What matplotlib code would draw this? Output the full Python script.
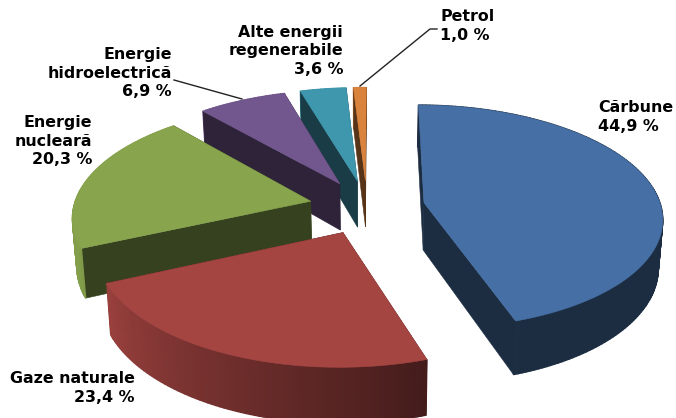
import numpy as np
import matplotlib
matplotlib.use("Agg")
import matplotlib.pyplot as plt
from matplotlib.patches import Polygon

# ---- data -------------------------------------------------------------
categories = ["Cărbune", "Gaze naturale", "Energie\nnucleară", "Energie\nhidroelectrică",
              "Alte energii\nregenerabile", "Petrol"]
values = [44.9, 23.4, 20.3, 6.9, 3.6, 1.0]
value_labels = ["44,9 %", "23,4 %", "20,3 %", "6,9 %", "3,6 %", "1,0 %"]
colors = ["#4670A5", "#A54542", "#88A44D", "#72578E", "#3F97AE", "#D9833D"]

# ---- 3-D pie projection parameters (pixels) -----------------------------
CX, CY = 367.0, 207.0
RADIUS = 237.0
EXPLODE = 58.0
TILT = 0.468
PERSP = 0.125
DEPTH = 47.5
BOTTOM_X = 0.985
START = 0.2

W, H = 676, 418
fig = plt.figure(figsize=(W / 100, H / 100), dpi=100)
ax = fig.add_axes([0, 0, 1, 1])
ax.set_xlim(0, W)
ax.set_ylim(H, 0)
ax.axis("off")


def project(theta, radius, mid, level):
    t, m = np.radians(theta), np.radians(mid)
    u = radius * np.sin(t) + EXPLODE * np.sin(m)
    v = radius * np.cos(t) + EXPLODE * np.cos(m)
    s = 1.0 / (1.0 + PERSP * v / RADIUS)
    x = u * s
    y = -v * TILT * s + DEPTH * s * level
    x = x * (1 + (BOTTOM_X - 1) * level)
    return np.column_stack([CX + x, CY + y])


def shade(color, f):
    rgb = np.array(matplotlib.colors.to_rgb(color))
    return tuple(rgb * f)


def wall_brightness(theta):
    return float(np.clip(0.40 + (theta - 160.0) * 0.0062, 0.40, 0.97))


def draw_wall(top_arc, bot_arc, thetas, col, mask):
    for i in range(len(thetas) - 1):
        tm = (thetas[i] + thetas[i + 1]) / 2
        if mask(tm):
            c = shade(col, wall_brightness(tm))
            ax.add_patch(Polygon([top_arc[i], top_arc[i + 1], bot_arc[i + 1], bot_arc[i]], closed=True,
                                 facecolor=c, edgecolor=c, lw=1.0, zorder=1))


total = sum(values)
fracs = [v / total * 360.0 for v in values]
starts = START + np.concatenate([[0], np.cumsum(fracs)[:-1]])
slices = [(s, s + f, c) for s, f, c in zip(starts, fracs, colors)]

# painter's order: back slices first
for idx in [5, 4, 3, 2, 0, 1]:
    a0, a1, col = slices[idx]
    mid = (a0 + a1) / 2
    thetas = np.linspace(a0, a1, max(int(a1 - a0), 6))
    top_arc = project(thetas, RADIUS, mid, 0)
    bot_arc = project(thetas, RADIUS, mid, 1)
    apex_top = project(np.array([mid]), 0.0, mid, 0)
    apex_bot = project(np.array([mid]), 0.0, mid, 1)
    dark = shade(col, 0.40)
    faces_back = lambda t: np.cos(np.radians(t)) > 0
    faces_front = lambda t: np.cos(np.radians(t)) <= 0
    draw_wall(top_arc, bot_arc, thetas, col, faces_back)
    for end_top, end_bot in [(top_arc[0], bot_arc[0]), (top_arc[-1], bot_arc[-1])]:
        ax.add_patch(Polygon([apex_top[0], end_top, end_bot, apex_bot[0]], closed=True,
                             facecolor=dark, edgecolor=dark, lw=0.4, zorder=1))
    draw_wall(top_arc, bot_arc, thetas, col, faces_front)
    ax.add_patch(Polygon(np.vstack([apex_top, top_arc]), closed=True,
                         facecolor=col, edgecolor=col, lw=0.4, zorder=1))

# ---- labels --------------------------------------------------------------
font = dict(fontsize=11.4, fontweight="bold", family="DejaVu Sans", color="black",
            linespacing=1.3, va="center", zorder=5)
ax.text(598, 117, f"{categories[0]}\n{value_labels[0]}", ha="left", **font)
ax.text(135, 388, f"{categories[1]}\n{value_labels[1]}", ha="right", **font)
ax.text(92, 141, f"{categories[2]}\n{value_labels[2]}", ha="right", **font)
ax.text(172, 73, f"{categories[3]}\n{value_labels[3]}", ha="right", **font)
ax.text(343, 51, f"{categories[4]}\n{value_labels[4]}", ha="right", **font)
ax.text(440, 26, f"{categories[5]}\n{value_labels[5]}", ha="left", **font)

ax.plot([174, 242], [80, 99], color="#222222", lw=1.0, zorder=4)
ax.plot([437, 430, 360], [29, 29, 86], color="#222222", lw=1.0, zorder=4)

fig.savefig("out.png", dpi=100)
